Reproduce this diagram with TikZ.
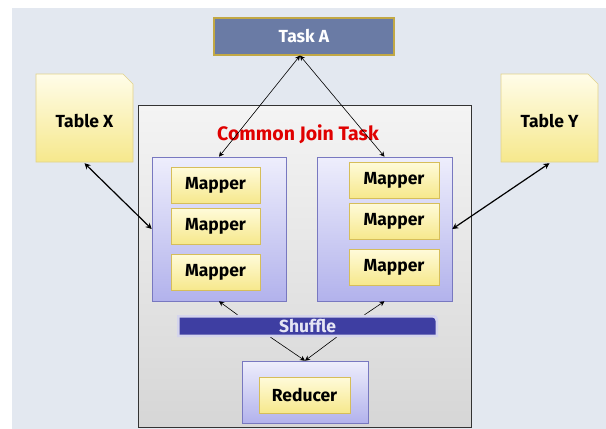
\documentclass[tikz,border=0pt]{standalone}
\usepackage{fontspec}
\setmainfont{Fira Sans}
\usetikzlibrary{arrows.meta,shadows,calc}
\definecolor{bgc}{HTML}{E3E8F0}
\definecolor{taskfill}{HTML}{6A7BA5}
\definecolor{taskdraw}{HTML}{C2A845}
\definecolor{grptop}{HTML}{EEEEFC}
\definecolor{grpbot}{HTML}{B2B2EC}
\definecolor{grpdraw}{HTML}{7878C0}
\definecolor{maptop}{HTML}{FFFBDA}
\definecolor{mapbot}{HTML}{F6E88C}
\definecolor{mapdraw}{HTML}{D6BE5A}
\definecolor{shufill}{HTML}{3E3EA2}
\definecolor{shudraw}{HTML}{D4D4EC}
\definecolor{redt}{HTML}{E00000}
\definecolor{outtop}{HTML}{F4F4F4}
\definecolor{outbot}{HTML}{D6D6D6}
\begin{document}
\begin{tikzpicture}[x=1pt,y=-1pt,
  every node/.style={font=\bfseries\fontsize{17.5}{19}\selectfont, inner sep=0pt},
  grp/.style={draw=grpdraw, line width=0.6pt, top color=grptop, bottom color=grpbot, minimum height=144pt},
  mapper/.style={draw=mapdraw, line width=0.8pt, top color=maptop, bottom color=mapbot, minimum width=89pt, minimum height=36pt,
     drop shadow={shadow xshift=0.8pt, shadow yshift=-0.8pt, opacity=0.25}},
  lnk/.style={line width=0.6pt, {Stealth[length=5pt,width=5pt]}-{Stealth[length=5pt,width=5pt]}},
  onearr/.style={line width=0.6pt, -{Stealth[length=5pt,width=5pt]}},
  tlnk/.style={line width=1.2pt, {Stealth[length=6pt,width=6pt]}-{Stealth[length=6pt,width=6pt]}}
]
\useasboundingbox (0,0) rectangle (606,429);
\fill[bgc] (12,8) rectangle (606,429);

% outer common join task box
\node[draw=black!80, line width=0.6pt, top color=outtop, bottom color=outbot, minimum width=333pt, minimum height=322pt] (outer) at (304.5,266) {};
\node[text=redt, font=\bfseries\fontsize{19.5}{21}\selectfont] (cjt) at (298,134) {Common Join Task};

% Task A
\node[draw=taskdraw, line width=1.2pt, fill=taskfill, text=white, minimum width=180pt, minimum height=37pt] (taskA) at (304,36.5) {Task A};

% Table X note
\shade[top color=white!40!maptop, bottom color=mapbot] (36,74) -- (123,74) -- (133,84) -- (133,162) -- (36,162) -- cycle;
\draw[mapdraw!70, line width=0.6pt] (36,74) -- (123,74) -- (133,84) -- (133,162) -- (36,162) -- cycle;
\node[minimum width=97pt, minimum height=82pt] (tx) at (84.5,121) {Table X};
% Table Y note
\shade[top color=white!40!maptop, bottom color=mapbot] (501,74) -- (588,74) -- (598,84) -- (598,162) -- (501,162) -- cycle;
\draw[mapdraw!70, line width=0.6pt] (501,74) -- (588,74) -- (598,84) -- (598,162) -- (501,162) -- cycle;
\node[minimum width=97pt, minimum height=82pt] (ty) at (549.5,121) {Table Y};

% mapper groups
\node[grp, minimum width=134pt] (lg) at (219,229) {};
\node[grp, minimum width=135pt] (rg) at (384.5,229) {};
\node[mapper] (lm1) at (215.5,185.5) {Mapper};
\node[mapper] (lm2) at (215.5,226) {Mapper};
\node[mapper] (lm3) at (215.5,272) {Mapper};
\node[mapper, minimum width=90pt] (rm1) at (394,180) {Mapper};
\node[mapper, minimum width=90pt] (rm2) at (394,221) {Mapper};
\node[mapper, minimum width=90pt] (rm3) at (394,267) {Mapper};

% shuffle bar
\fill[shudraw] (177,315) -- (434,315) arc[start angle=90, end angle=0, radius=4pt] -- (438,337) -- (177,337) -- cycle;
\fill[shufill] (179.5,317.5) -- (432,317.5) arc[start angle=90, end angle=0, radius=3.5pt] -- (435.5,334.5) -- (179.5,334.5) -- cycle;
\node[text=shudraw!60!white, minimum width=261pt, minimum height=22pt] (sh) at (307.5,326) {Shuffle};

% reducer
\node[grp, minimum width=126pt, minimum height=62pt] (rgrp) at (305,392) {};
\node[mapper, minimum width=91pt] (red) at (304.5,395) {Reducer};

% connectors
\draw[lnk] ([xshift=-4pt]taskA.south) -- (lg.north);
\draw[lnk] ([xshift=-4pt]taskA.south) -- (rg.north);
\draw[tlnk] ([yshift=-1pt]tx.south) -- (lg.west);
\draw[tlnk] ([yshift=-1pt]ty.south) -- (rg.east);
\draw[onearr] ([xshift=-70pt]sh.north) -- (lg.south);
\draw[onearr] ([xshift=57pt]sh.north) -- (rg.south);
\draw[onearr] ([xshift=-37pt]sh.south) -- (rgrp.north);
\draw[onearr] ([xshift=29pt]sh.south) -- (rgrp.north);
\end{tikzpicture}
\end{document}
